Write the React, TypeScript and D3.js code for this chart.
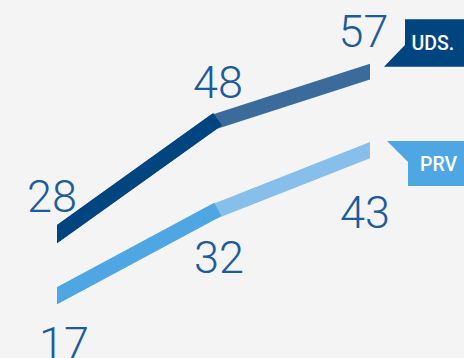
import React from 'react';
import * as d3 from 'd3';

const categories = ['t1', 't2', 't3'];
const seriesNames = ['UDS.', 'PRV'];
const udsValues = [28, 48, 57];
const prvValues = [17, 32, 43];
const udsColors = ['#00457f', '#3a6b9a'];
const prvColors = ['#4ea7e3', '#87bfeb'];
const labelColor = '#1d5b9b';

const W = 464;
const H = 358;

type Pt = [number, number];

export default function App() {
  const x = d3.scalePoint<string>().domain(categories).range([57, 370]);
  const y = d3.scaleLinear().domain([17, 57]).range([295.7, 71.7]);
  const sw = 15;
  const line = d3.line<Pt>();

  const ext = (a: Pt, b: Pt, dA: number, dB: number): Pt[] => {
    const dx = b[0] - a[0];
    const dy = b[1] - a[1];
    const L = Math.hypot(dx, dy);
    const ux = dx / L, uy = dy / L;
    return [
      [a[0] - ux * dA, a[1] - uy * dA],
      [b[0] + ux * dB, b[1] + uy * dB],
    ];
  };

  const series = [
    { name: seriesNames[0], values: udsValues, colors: udsColors,
      ldx: [-5, 4.5, -6.5], ldy: [-22, -24.5, -25] },
    { name: seriesNames[1], values: prvValues, colors: prvColors,
      ldx: [7, 5.5, -5], ldy: [63.5, 61, 77.5] },
  ];

  const renderSeries = (s: typeof series[number], si: number) => {
    const pts: Pt[] = s.values.map((v, i) => [x(categories[i])!, y(v)]);
    // full polyline (second colour) with ends extended, clipped to x range
    const first = ext(pts[0], pts[1], 30, 0)[0];
    const last = ext(pts[1], pts[2], 0, 30)[1];
    const full: Pt[] = [first, pts[1], last];
    const seg1 = ext(pts[0], pts[1], 30, 5);
    return (
      <g key={si} clipPath="url(#clipx)">
        <path d={line(full)!} fill="none" stroke={s.colors[1]} strokeWidth={sw} strokeLinejoin="miter" />
        <path d={line(seg1)!} fill="none" stroke={s.colors[0]} strokeWidth={sw} strokeLinecap="butt" />
      </g>
    );
  };

  const udsEnd: Pt = [x(categories[2])!, y(udsValues[2])];
  const prvEnd: Pt = [x(categories[2])!, y(prvValues[2])];

  const udsFlag: Pt[] = [
    [udsEnd[0] + 35, udsEnd[1] - 52.4],
    [W + 5, udsEnd[1] - 52.4],
    [W + 5, udsEnd[1] - 5],
    [udsEnd[0] + 14, udsEnd[1] - 5],
    [udsEnd[0] + 35, udsEnd[1] - 26.7],
  ];
  const prvFlag: Pt[] = [
    [prvEnd[0] + 17, prvEnd[1] - 9],
    [W + 5, prvEnd[1] - 9],
    [W + 5, prvEnd[1] + 36],
    [prvEnd[0] + 38, prvEnd[1] + 36],
    [prvEnd[0] + 38, prvEnd[1] + 12],
  ];
  const poly = (p: Pt[]) => 'M' + p.map((q) => q.join(',')).join('L') + 'Z';

  return (
    <svg width={W} height={H} style={{ position: 'absolute', left: 0, top: 0, display: 'block' }}
      fontFamily="Roboto, 'Noto Sans', sans-serif">
      <defs>
        <clipPath id="clipx">
          <rect x={x(categories[0])!} y={0} width={x(categories[2])! - x(categories[0])!} height={H} />
        </clipPath>
      </defs>
      <rect width={W} height={H} fill="#f4f4f4" />
      {series.map(renderSeries)}
      {series.map((s, si) =>
        s.values.map((v, i) => (
          <text key={`${si}-${i}`} x={x(categories[i])! + s.ldx[i]} y={y(v) + s.ldy[i]}
            textAnchor="middle" fontSize={45} fontWeight={300} fill={labelColor}>
            {v}
          </text>
        ))
      )}
      <path d={poly(udsFlag)} fill={udsColors[0]} />
      <path d={poly(prvFlag)} fill={prvColors[0]} />
      <text x={udsEnd[0] + 41.5} y={udsEnd[1] - 22} fontSize={19.5} fontWeight={500} fill="#ffffff">{seriesNames[0]}</text>
      <text x={prvEnd[0] + 50} y={prvEnd[1] + 20.7} fontSize={19.5} fontWeight={500} fill="#ffffff">{seriesNames[1]}</text>
    </svg>
  );
}
